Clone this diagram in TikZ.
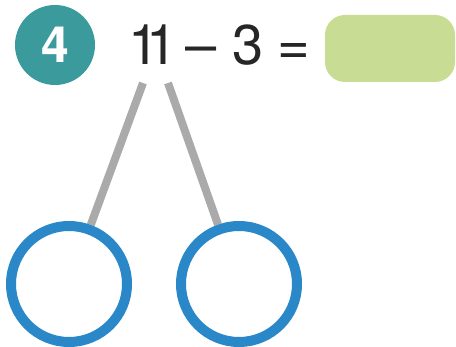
\documentclass[tikz,border=0pt]{standalone}
\usepackage{fontspec}
\setmainfont{TeX Gyre Heros}
\definecolor{badge}{HTML}{3A9A9C}
\definecolor{answer}{HTML}{C8DC94}
\definecolor{ringblue}{HTML}{2A88C8}
\definecolor{stem}{HTML}{AAAAAA}
\pgfdeclarelayer{background}
\pgfsetlayers{background,main}
\begin{document}
\begin{tikzpicture}[x=1pt,y=-1pt,
  expr/.style={inner sep=0pt,anchor=base,font=\fontsize{56}{60}\selectfont,text=black!85},
  ring/.style={circle,draw=ringblue,line width=10pt,fill=white,minimum size=116pt,inner sep=0pt},
  branch/.style={draw=stem,line width=8pt}]
\useasboundingbox (0,0) rectangle (456,347);
% badge
\node[circle,fill=badge,minimum size=80pt,inner sep=0pt,text=white,
      font=\fontsize{50}{52}\selectfont\bfseries] (num) at (55,45) {4};
% expression
\node[expr] (eleven) at (153,65) {1\kern-0.25em1};
\node[expr] (minus) at (201,65) {–};
\node[expr] (three) at (248,65) {3};
\node[expr] (equals) at (294,65) {=};
\node[fill=answer,rounded corners=20pt,minimum width=130pt,minimum height=67pt,inner sep=0pt] (ans) at (390,48.5) {};
% circles and branches
\coordinate (t1) at (143,83);
\coordinate (t2) at (168,83);
\node[ring] (c1) at (69,284) {};
\node[ring] (c2) at (239,284) {};
\begin{pgfonlayer}{background}
\draw[branch] (t1) -- (c1);
\draw[branch] (t2) -- (c2);
\end{pgfonlayer}
\end{tikzpicture}
\end{document}
